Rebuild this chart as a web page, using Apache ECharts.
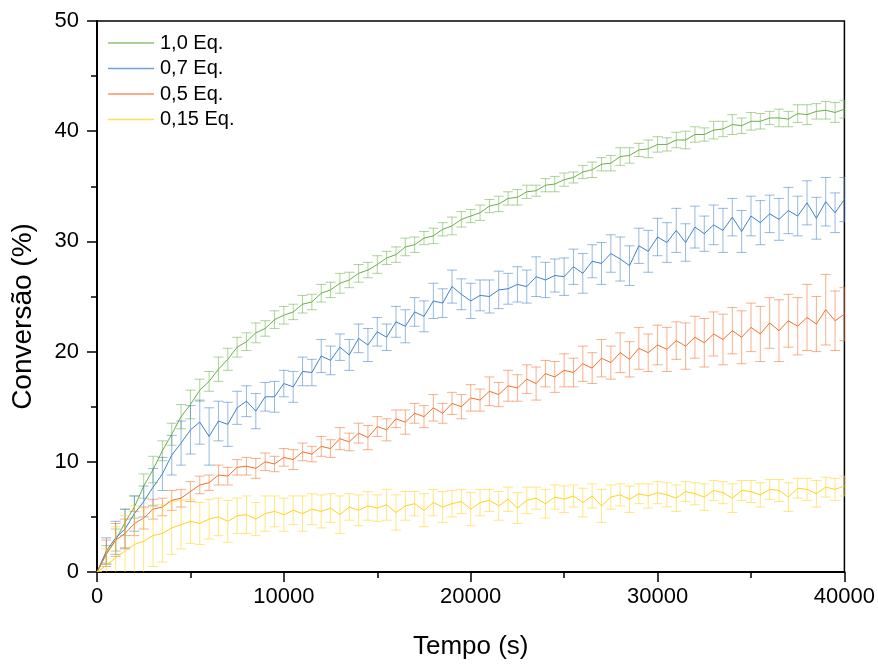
<!DOCTYPE html>
<html>
<head>
<meta charset="utf-8">
<script src="https://cdn.jsdelivr.net/npm/echarts@6/dist/echarts.min.js"></script>
<style>
html,body{margin:0;padding:0;background:#fff;overflow:hidden;}
#chart{width:878px;height:665px;}
</style>
</head>
<body>
<div id="chart"></div>
<script>
// time (s)
const time = [
  0,500,1000,1500,2000,2500,3000,3500,4000,4500,
  5000,5500,6000,6500,7000,7500,8000,8500,9000,9500,
  10000,10500,11000,11500,12000,12500,13000,13500,14000,14500,
  15000,15500,16000,16500,17000,17500,18000,18500,19000,19500,
  20000,20500,21000,21500,22000,22500,23000,23500,24000,24500,
  25000,25500,26000,26500,27000,27500,28000,28500,29000,29500,
  30000,30500,31000,31500,32000,32500,33000,33500,34000,34500,
  35000,35500,36000,36500,37000,37500,38000,38500,39000,39500,
  40000
];
const seriesNames = ['1,0 Eq.', '0,7 Eq.', '0,5 Eq.', '0,15 Eq.'];

const eq10 = [
  0,1.6,2.9,4.5,5.9,7.8,9.3,11.0,12.5,14.1,
  15.2,16.5,17.3,18.4,19.3,20.4,20.9,21.7,22.1,22.9,
  23.3,23.6,24.3,24.5,25.3,25.6,26.2,26.5,27.1,27.4,
  27.9,28.5,28.8,29.5,29.7,30.3,30.5,31.1,31.4,32.0,
  32.3,32.6,33.2,33.4,33.9,34.0,34.5,34.6,35.1,35.2,
  35.6,35.8,36.3,36.5,37.0,37.1,37.7,37.8,38.3,38.4,
  38.8,38.8,39.2,39.2,39.7,39.7,40.1,40.2,40.6,40.5,
  40.9,40.9,41.2,41.2,41.1,41.6,41.5,41.8,41.9,41.7,
  42.0
];
const eq10Err = [
  0,0.8,1.0,1.2,1.0,1.1,1.2,0.9,1.0,1.1,
  1.3,1.0,0.9,1.1,1.0,0.9,0.8,0.9,0.7,0.8,
  0.8,0.7,0.8,0.7,0.8,0.7,0.9,0.7,0.8,0.7,
  0.8,0.6,0.7,0.8,0.7,0.6,0.7,0.6,0.8,0.7,
  0.6,0.7,0.6,0.7,0.6,0.7,0.6,0.5,0.6,0.7,
  0.6,0.5,0.6,0.7,0.6,0.7,0.8,0.7,0.6,0.8,
  0.7,0.6,0.7,0.8,0.7,0.6,0.8,0.7,0.9,0.7,
  0.8,0.7,0.6,0.8,0.7,0.8,0.9,0.7,0.8,0.9,
  0.8
];

const eq07 = [
  0,1.9,3.1,3.9,5.3,6.4,7.7,8.9,10.6,11.7,
  12.9,13.6,12.3,13.7,13.4,14.9,15.5,14.6,15.9,15.9,
  17.1,16.8,18.2,18.1,19.6,19.2,20.4,19.7,21.2,20.6,
  21.8,21.3,22.7,22.3,23.6,23.2,24.6,24.4,25.9,25.2,
  24.6,25.1,25.0,25.6,25.7,26.1,25.9,26.8,26.5,26.9,
  26.8,27.7,27.1,28.2,28.0,28.9,28.4,27.8,29.6,29.1,
  30.4,29.9,31.0,29.9,31.3,30.7,31.5,31.0,32.2,30.9,
  32.3,31.7,32.5,32.0,32.8,32.3,33.5,32.1,33.6,32.6,
  33.8
];
const eq07Err = [
  0,1.2,1.5,1.8,1.6,1.4,1.7,1.5,1.8,2.0,
  2.2,2.0,2.6,1.8,2.0,1.5,1.4,1.6,1.3,1.4,
  1.2,1.4,1.3,1.2,1.5,1.3,1.2,1.4,1.3,1.5,
  1.3,1.2,1.4,1.5,1.3,1.4,1.6,1.3,1.5,1.4,
  1.6,1.4,1.5,1.7,1.4,1.6,1.5,1.8,1.6,1.5,
  1.7,1.6,1.8,1.5,1.9,1.7,2.0,1.8,1.6,1.9,
  1.7,1.8,2.0,1.7,1.9,1.6,1.8,2.0,1.7,1.9,
  1.8,2.0,1.7,1.9,2.1,1.8,2.0,1.9,2.2,1.8,
  2.0
];

const eq05 = [
  0,1.7,2.9,3.5,4.4,4.9,5.7,5.9,6.5,6.7,
  7.3,7.9,8.1,8.8,8.7,9.5,9.6,9.4,10.0,9.8,
  10.4,10.2,10.9,10.7,11.4,11.2,12.1,11.8,12.6,12.2,
  13.2,12.9,13.9,13.6,14.4,14.1,14.9,14.4,15.3,15.0,
  15.8,15.6,16.4,16.1,16.9,16.7,17.5,17.1,18.0,17.7,
  18.3,18.1,18.9,18.5,19.4,19.0,19.9,19.3,20.3,19.9,
  20.6,20.2,21.0,20.5,21.3,20.8,21.6,21.1,21.9,21.3,
  22.2,21.6,22.6,21.9,22.8,22.3,23.1,22.5,23.8,22.8,
  23.4
];
const eq05Err = [
  0,1.2,1.5,1.3,1.1,1.0,0.9,0.8,0.9,0.8,
  0.9,0.8,0.7,0.9,0.8,0.7,0.8,0.9,0.8,0.7,
  0.8,0.9,0.8,0.7,0.9,0.8,1.0,0.8,0.9,1.1,
  0.9,1.0,0.8,1.1,0.9,1.0,1.2,0.9,1.0,1.1,
  1.2,1.0,1.3,1.1,1.4,1.2,1.3,1.5,1.2,1.4,
  1.5,1.3,1.6,1.4,1.7,1.5,1.8,1.6,1.9,1.7,
  1.8,2.0,1.7,2.1,1.9,2.2,2.0,2.3,2.1,2.4,
  2.2,2.5,2.3,2.8,2.4,2.6,3.0,2.5,3.2,2.7,
  2.4
];

const eq015 = [
  0,0.6,1.3,1.9,2.5,2.8,3.3,3.5,4.0,4.3,
  4.6,4.4,4.8,5.0,4.6,5.1,5.2,4.8,5.3,5.5,
  5.2,5.6,5.3,5.7,5.5,5.8,5.2,5.9,5.6,6.0,
  5.8,6.1,5.4,6.0,6.2,5.6,6.3,5.9,6.2,6.4,
  5.7,6.3,6.5,6.0,6.6,5.8,6.5,6.7,6.2,6.8,
  6.6,6.9,6.3,6.9,6.0,6.8,7.0,6.6,7.1,6.9,
  7.2,7.0,6.7,7.3,7.1,6.8,7.4,7.2,6.7,7.4,
  7.3,7.0,7.5,7.4,6.8,7.6,7.5,7.1,7.7,7.5,
  7.8
];
const eq015Err = [
  0,1.5,2.8,3.2,3.5,3.0,2.8,2.6,2.4,2.2,
  2.0,1.9,1.8,1.7,1.9,1.6,1.7,1.5,1.6,1.4,
  1.5,1.3,1.6,1.4,1.5,1.3,1.7,1.2,1.4,1.3,
  1.2,1.4,1.6,1.3,1.1,1.5,1.2,1.4,1.2,1.1,
  1.5,1.2,1.0,1.3,1.1,1.4,1.2,1.0,1.3,1.1,
  1.2,1.0,1.3,1.1,1.5,1.1,1.0,1.2,0.9,1.1,
  1.0,1.1,1.2,0.9,1.0,1.2,0.9,1.0,1.3,0.9,
  1.0,1.1,0.9,1.0,1.3,0.9,1.0,1.2,0.9,1.0,
  0.9
];

const xTicks = [0, 10000, 20000, 30000, 40000];
const yTicks = [0, 10, 20, 30, 40, 50];

const colors = ['#6aaf45', '#3f80c8', '#f36f2c', '#ffd319'];
const valuesList = [eq10, eq07, eq05, eq015];
const errList = [eq10Err, eq07Err, eq05Err, eq015Err];

const FONT = '"Liberation Sans", Arial, sans-serif';

function errorSeries(idx) {
  const vals = valuesList[idx], errs = errList[idx], color = colors[idx];
  return {
    type: 'custom',
    name: seriesNames[idx] + ' err',
    clip: true,
    z: 2 + idx * 2,
    silent: true,
    encode: { x: 0, y: [1, 2] },
    data: time.map((t, i) => [t, vals[i] - (errs[i] || 0), vals[i] + (errs[i] || 0)]),
    renderItem: function (params, api) {
      const x = api.value(0);
      const lo = api.coord([x, api.value(1)]);
      const hi = api.coord([x, api.value(2)]);
      const w = 5;
      const st = { stroke: color, lineWidth: 1, opacity: 0.55 };
      return {
        type: 'group',
        children: [
          { type: 'line', shape: { x1: lo[0], y1: lo[1], x2: hi[0], y2: hi[1] }, style: st },
          { type: 'line', shape: { x1: hi[0] - w, y1: hi[1], x2: hi[0] + w, y2: hi[1] }, style: st },
          { type: 'line', shape: { x1: lo[0] - w, y1: lo[1], x2: lo[0] + w, y2: lo[1] }, style: st }
        ]
      };
    }
  };
}
function lineSeries(idx) {
  return {
    type: 'line',
    name: seriesNames[idx],
    z: 3 + idx * 2,
    symbol: 'none',
    showSymbol: false,
    animation: false,
    lineStyle: { color: colors[idx], width: 1 },
    itemStyle: { color: colors[idx] },
    data: time.map((t, i) => [t, valuesList[idx][i]])
  };
}

const series = [];
for (let i = 0; i < 4; i++) { series.push(errorSeries(i)); series.push(lineSeries(i)); }

const chart = echarts.init(document.getElementById('chart'), null, { renderer: 'canvas' });
chart.setOption({
  animation: false,
  backgroundColor: '#fff',
  textStyle: { fontFamily: FONT },
  grid: { left: 97, right: 32, top: 21, bottom: 87, show: true, borderColor: '#000', borderWidth: 1.5, containLabel: false },
  legend: {
    data: seriesNames,
    orient: 'vertical',
    left: 103,
    top: 28,
    icon: 'rect',
    itemWidth: 46,
    itemHeight: 1.5,
    itemGap: 5.5,
    itemStyle: { opacity: 0.75 },
    textStyle: { fontSize: 20, color: '#000', fontFamily: FONT, lineHeight: 20, padding: [0, 0, 0, 1] }
  },
  xAxis: {
    type: 'value',
    min: xTicks[0],
    max: xTicks[xTicks.length - 1],
    interval: xTicks[1] - xTicks[0],
    name: 'Tempo (s)',
    nameLocation: 'middle',
    nameGap: 62,
    nameTextStyle: { fontSize: 26, color: '#000', fontFamily: FONT },
    axisLine: { show: true, onZero: false, lineStyle: { color: '#000', width: 2 } },
    axisTick: { show: true, inside: false, length: 10, lineStyle: { color: '#000', width: 1.5 } },
    minorTick: { show: true, splitNumber: 2, length: 6, lineStyle: { color: '#000', width: 1.5 } },
    splitLine: { show: false },
    minorSplitLine: { show: false },
    axisLabel: { fontSize: 22, color: '#000', margin: 14, fontFamily: FONT, formatter: function (v) { return String(v); } }
  },
  yAxis: {
    type: 'value',
    min: yTicks[0],
    max: yTicks[yTicks.length - 1],
    interval: yTicks[1] - yTicks[0],
    name: 'Conversão (%)',
    nameLocation: 'middle',
    nameGap: 60,
    nameTextStyle: { fontSize: 28, color: '#000', fontFamily: FONT, padding: [0, 40, 0, 0] },
    axisLine: { show: true, onZero: false, lineStyle: { color: '#000', width: 2 } },
    axisTick: { show: true, inside: false, length: 10, lineStyle: { color: '#000', width: 1.5 } },
    minorTick: { show: true, splitNumber: 2, length: 6, lineStyle: { color: '#000', width: 1.5 } },
    splitLine: { show: false },
    minorSplitLine: { show: false },
    axisLabel: { fontSize: 22, color: '#000', margin: 18, fontFamily: FONT }
  },
  series: series
});
</script>
</body>
</html>
